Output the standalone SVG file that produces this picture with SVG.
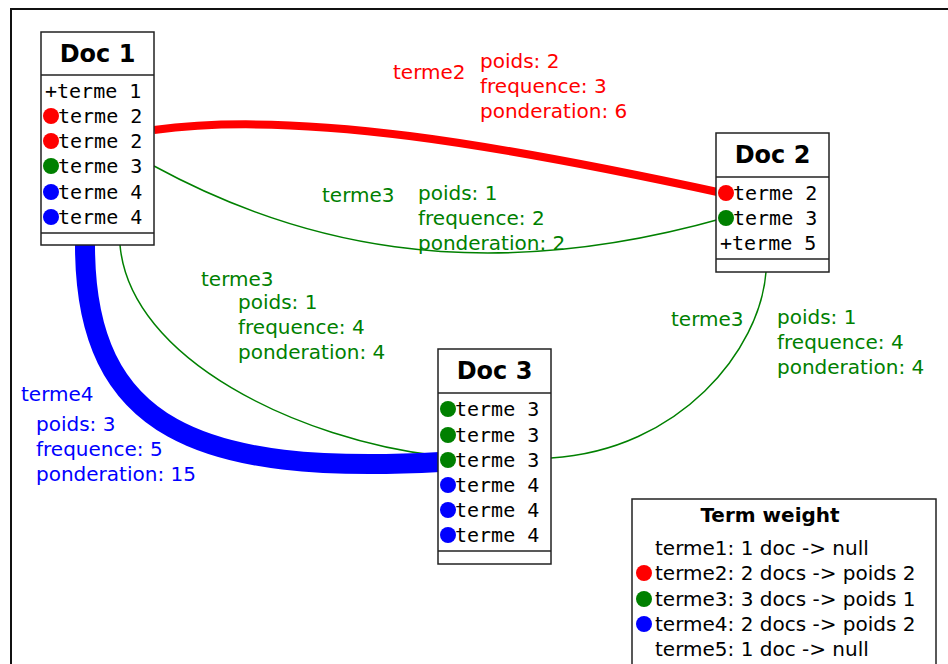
<svg xmlns="http://www.w3.org/2000/svg" width="948" height="664" viewBox="0 0 948 664">
<style>
.box{fill:#fff;stroke:#222;stroke-width:1.5}
.ttl{font-family:"DejaVu Sans",sans-serif;font-weight:bold;font-size:24px;text-anchor:middle;fill:#000}
.row{font-family:"DejaVu Sans Mono",monospace;font-size:20px;fill:#000}
.lbl{font-family:"DejaVu Sans",sans-serif;font-size:20px}
.leg{font-family:"DejaVu Sans",sans-serif;font-size:20px;fill:#000}
.r{fill:#ff0000}.g{fill:#008000}.b{fill:#0000ff}
.edge{fill:none}
</style>
<rect x="11" y="9" width="960" height="700" fill="#fff" stroke="#111" stroke-width="2"/>
<g id="edges">
<path class="edge" d="M154,130 C300,110 500,145 722,193" stroke="#ff0000" stroke-width="8"/>
<path class="edge" d="M154,166 C290,240 470,290 724,218" stroke="#008000" stroke-width="1.5"/>
<path class="edge" d="M120,245 C130,360 300,440 440,456" stroke="#008000" stroke-width="1.5"/>
<path class="edge" d="M551,458 C680,450 760,350 766,272" stroke="#008000" stroke-width="1.5"/>
<path class="edge" d="M85,245 C85,430 200,475 440,462" stroke="#0000ff" stroke-width="20"/>
</g>
<g id="edge-labels">
<text class="lbl r" x="393" y="79">terme2</text>
<text class="lbl r" x="480" y="68">poids: 2</text>
<text class="lbl r" x="480" y="93">frequence: 3</text>
<text class="lbl r" x="480" y="118">ponderation: 6</text>
<text class="lbl g" x="322" y="202">terme3</text>
<text class="lbl g" x="418" y="200">poids: 1</text>
<text class="lbl g" x="418" y="225">frequence: 2</text>
<text class="lbl g" x="418" y="250">ponderation: 2</text>
<text class="lbl g" x="201" y="286">terme3</text>
<text class="lbl g" x="238" y="309">poids: 1</text>
<text class="lbl g" x="238" y="334">frequence: 4</text>
<text class="lbl g" x="238" y="359">ponderation: 4</text>
<text class="lbl g" x="671" y="326">terme3</text>
<text class="lbl g" x="777" y="324">poids: 1</text>
<text class="lbl g" x="777" y="349">frequence: 4</text>
<text class="lbl g" x="777" y="374">ponderation: 4</text>
<text class="lbl b" x="21" y="401">terme4</text>
<text class="lbl b" x="36" y="431">poids: 3</text>
<text class="lbl b" x="36" y="456">frequence: 5</text>
<text class="lbl b" x="36" y="481">ponderation: 15</text>
</g>
<g id="doc1">
<rect class="box" x="41" y="32" width="113" height="213"/>
<line class="box" x1="41" y1="75" x2="154" y2="75"/>
<line class="box" x1="41" y1="233" x2="154" y2="233"/>
<text class="ttl" x="97.5" y="62">Doc 1</text>
<text class="row" x="45" y="98">+terme 1</text>
<circle class="r" cx="51" cy="116" r="8"/><text class="row" x="58" y="123">terme 2</text>
<circle class="r" cx="51" cy="141" r="8"/><text class="row" x="58" y="148">terme 2</text>
<circle class="g" cx="51" cy="166" r="8"/><text class="row" x="58" y="173">terme 3</text>
<circle class="b" cx="51" cy="192" r="8"/><text class="row" x="58" y="199">terme 4</text>
<circle class="b" cx="51" cy="217" r="8"/><text class="row" x="58" y="224">terme 4</text>
</g>
<g id="doc2">
<rect class="box" x="716" y="133" width="113" height="139"/>
<line class="box" x1="716" y1="177" x2="829" y2="177"/>
<line class="box" x1="716" y1="259" x2="829" y2="259"/>
<text class="ttl" x="772.5" y="163">Doc 2</text>
<circle class="r" cx="726" cy="193" r="8"/><text class="row" x="733" y="200">terme 2</text>
<circle class="g" cx="726" cy="218" r="8"/><text class="row" x="733" y="225">terme 3</text>
<text class="row" x="720" y="250">+terme 5</text>
</g>
<g id="doc3">
<rect class="box" x="438" y="349" width="113" height="215"/>
<line class="box" x1="438" y1="393" x2="551" y2="393"/>
<line class="box" x1="438" y1="551" x2="551" y2="551"/>
<text class="ttl" x="494.5" y="379">Doc 3</text>
<circle class="g" cx="448" cy="409" r="8"/><text class="row" x="455" y="416">terme 3</text>
<circle class="g" cx="448" cy="435" r="8"/><text class="row" x="455" y="442">terme 3</text>
<circle class="g" cx="448" cy="460" r="8"/><text class="row" x="455" y="467">terme 3</text>
<circle class="b" cx="448" cy="485" r="8"/><text class="row" x="455" y="492">terme 4</text>
<circle class="b" cx="448" cy="510" r="8"/><text class="row" x="455" y="517">terme 4</text>
<circle class="b" cx="448" cy="535" r="8"/><text class="row" x="455" y="542">terme 4</text>
</g>
<g id="legend">
<rect class="box" x="632" y="499" width="304" height="200"/>
<text class="ttl" x="770" y="522" style="font-size:20px">Term weight</text>
<text class="leg" x="655" y="555">terme1: 1 doc -&gt; null</text>
<circle class="r" cx="644" cy="573" r="8"/><text class="leg" x="655" y="580">terme2: 2 docs -&gt; poids 2</text>
<circle class="g" cx="644" cy="599" r="8"/><text class="leg" x="655" y="606">terme3: 3 docs -&gt; poids 1</text>
<circle class="b" cx="644" cy="624" r="8"/><text class="leg" x="655" y="631">terme4: 2 docs -&gt; poids 2</text>
<text class="leg" x="655" y="656">terme5: 1 doc -&gt; null</text>
</g>
</svg>
